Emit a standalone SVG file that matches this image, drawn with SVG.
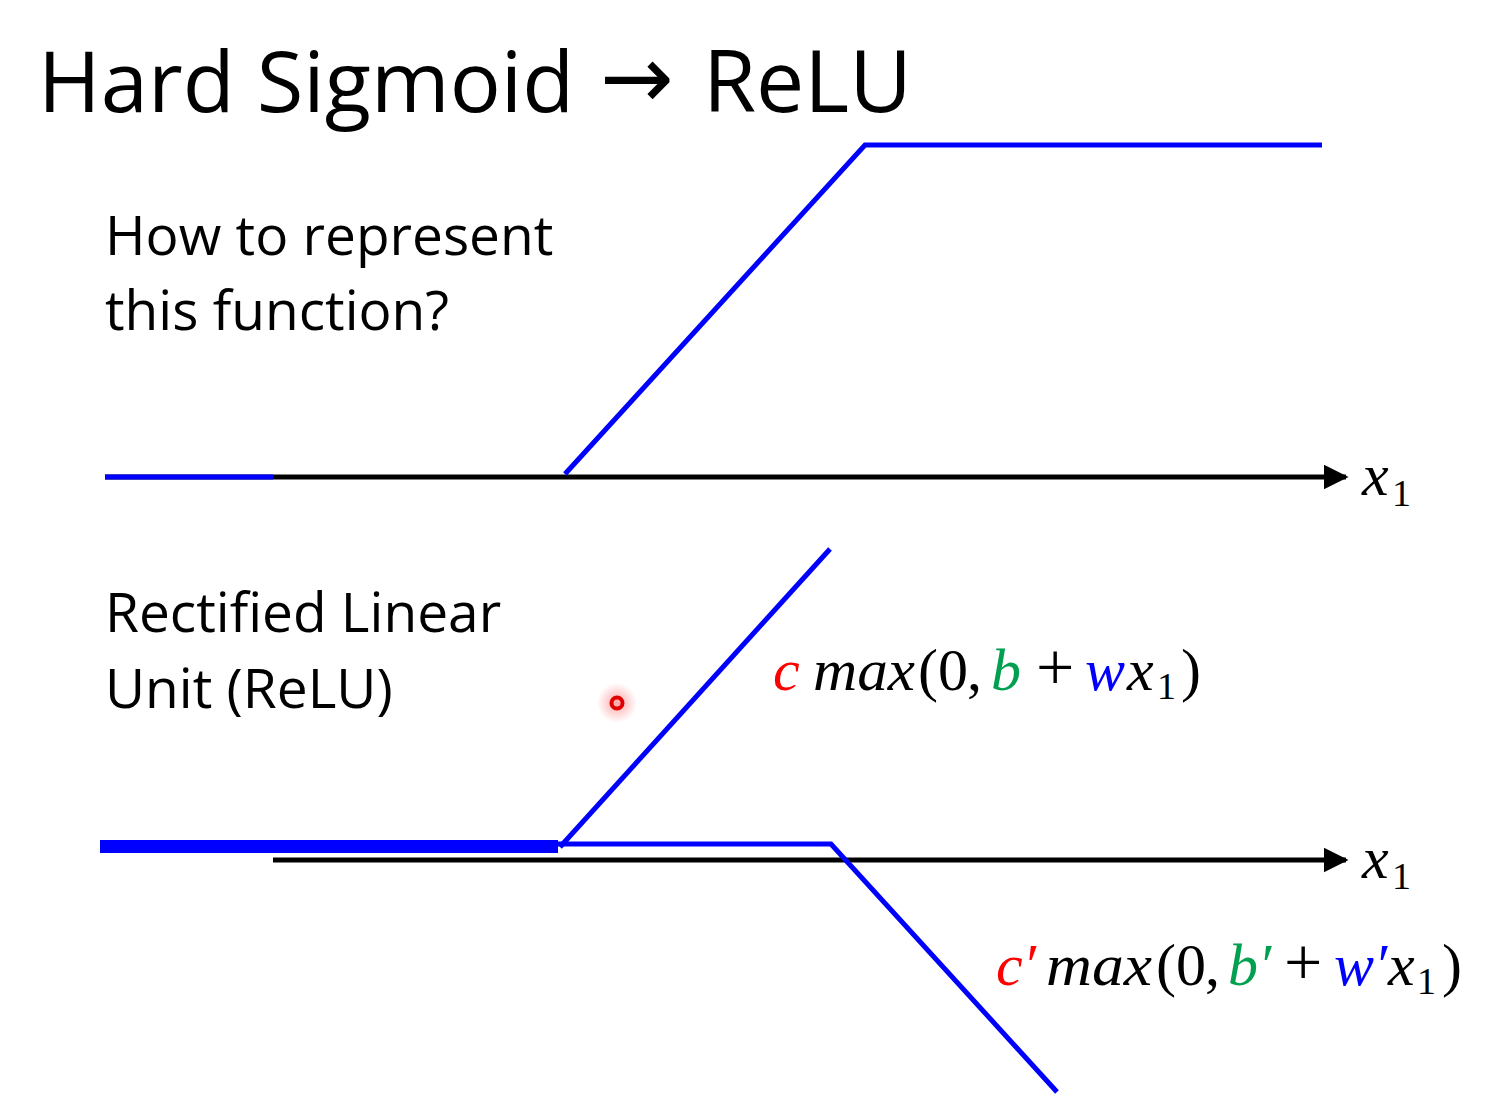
<svg xmlns="http://www.w3.org/2000/svg" width="1488" height="1110" viewBox="0 0 1488 1110">
<style>
.t{font-family:"Open Sans","Noto Sans",sans-serif;fill:#000}
.m{font-family:"Liberation Serif",serif;font-style:italic;font-size:60px;fill:#000}
.n{font-style:normal}
.p{font-style:normal;font-size:68px}
.s{font-style:normal;font-size:38px}
.axis{stroke:#000;stroke-width:5;fill:none}
.blue{stroke:#0000ff;stroke-width:5;fill:none}
</style>
<defs>
<marker id="arr" viewBox="0 0 10 10" refX="9" refY="5" markerWidth="5" markerHeight="5" orient="auto" markerUnits="strokeWidth">
<path d="M0,0 L10,5 L0,10 z" fill="#000"/>
</marker>
<radialGradient id="glow"><stop offset="0" stop-color="#ff0000" stop-opacity="0.35"/><stop offset="1" stop-color="#ff0000" stop-opacity="0"/></radialGradient>
</defs>
<rect width="1488" height="1110" fill="#fff"/>
<g id="title">
<text class="t" x="38" y="112" font-size="85">Hard Sigmoid</text>
<text x="600" y="108" font-family="DejaVu Sans,sans-serif" font-size="88" fill="#000">→</text>
<text class="t" x="703" y="112" font-size="86">ReLU</text>
</g>
<g id="q"><text class="t" x="105" y="255" font-size="55">How to represent</text><text class="t" x="105" y="330" font-size="55">this function?</text></g>
<g id="relu-label"><text class="t" x="105" y="632" font-size="55">Rectified Linear</text><text class="t" x="105" y="708" font-size="55">Unit (ReLU)</text></g>
<g id="connectors">
<line class="axis" x1="105" y1="477" x2="1346" y2="477" marker-end="url(#arr)"/>
<polyline class="blue" points="105,477 273,477"/>
<polyline class="blue" points="565,474 865,145 1322,145"/>
<line class="axis" x1="273" y1="860" x2="1346" y2="860" marker-end="url(#arr)"/>
<rect x="100" y="840" width="458" height="13" fill="#0000ff"/>
<polyline class="blue" points="558,844 831,844 1057,1092"/>
<line class="blue" x1="560" y1="847" x2="830" y2="549"/>
</g>
<g id="x1-top"><text class="m" x="1362" y="495">x<tspan class="s" x="1392" dy="11">1</tspan></text></g>
<g id="x1-bottom"><text class="m" x="1362" y="878">x<tspan class="s" x="1392" dy="11">1</tspan></text></g>
<g id="f1"><text class="m" y="690"><tspan x="773" fill="#ff0000">c</tspan><tspan x="813" textLength="102" lengthAdjust="spacingAndGlyphs">max</tspan><tspan class="n" x="918">(</tspan><tspan class="n" x="938">0</tspan><tspan class="n" x="967">,</tspan><tspan x="991" fill="#00a050">b</tspan><tspan class="p" x="1036">+</tspan><tspan x="1085" fill="#0000ff">w</tspan><tspan x="1127">x</tspan><tspan class="s" x="1157" dy="9">1</tspan><tspan class="n" x="1181" dy="-9">)</tspan></text></g>
<g id="f2"><text class="m" y="985"><tspan x="996" fill="#ff0000">c′</tspan><tspan x="1046" textLength="106" lengthAdjust="spacingAndGlyphs">max</tspan><tspan class="n" x="1156">(</tspan><tspan class="n" x="1176">0</tspan><tspan class="n" x="1205">,</tspan><tspan x="1228" fill="#00a050">b′</tspan><tspan class="p" x="1284">+</tspan><tspan x="1334" fill="#0000ff">w′</tspan><tspan x="1388">x</tspan><tspan class="s" x="1417" dy="9">1</tspan><tspan class="n" x="1442" dy="-9">)</tspan></text></g>
<g id="pointer"><circle cx="617" cy="703" r="20" fill="url(#glow)"/><circle cx="617" cy="703" r="5.5" fill="none" stroke="#e00000" stroke-width="4"/></g>
</svg>
